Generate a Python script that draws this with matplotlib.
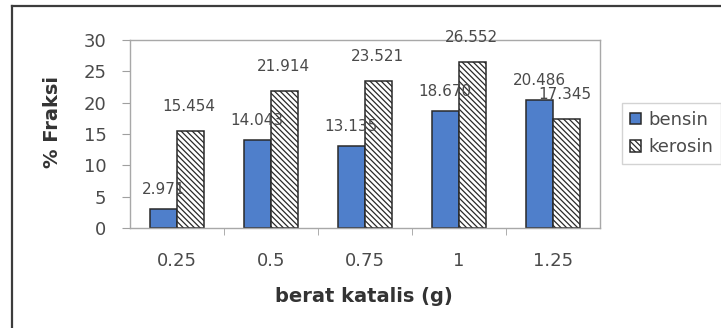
import matplotlib.pyplot as plt
import numpy as np
from matplotlib.lines import Line2D

plt.rcParams['font.family'] = ['DejaVu Sans']
plt.rcParams['hatch.linewidth'] = 0.9
plt.rcParams['hatch.color'] = '#222222'

berat = ['0.25', '0.5', '0.75', '1', '1.25']
bensin = [2.971, 14.043, 13.135, 18.670, 20.486]
kerosin = [15.454, 21.914, 23.521, 26.552, 17.345]

txt = '#4a4a4a'
W, H = 721, 328

fig = plt.figure(figsize=(W / 100, H / 100), dpi=100)
ax = fig.add_axes([130 / W, 1 - 228 / H, 470 / W, 188 / H])

x = np.arange(len(berat))
w = 0.29
b1 = ax.bar(x - w / 2, bensin, w, color='#4f7fcb', edgecolor='#2a2a2a',
            linewidth=1.1, label='bensin', zorder=2)
b2 = ax.bar(x + w / 2, kerosin, w, color='white', edgecolor='#2a2a2a',
            hatch='\\\\\\\\\\\\', linewidth=1.1, label='kerosin', zorder=2)

for xi, v in zip(x - w / 2, bensin):
    ax.annotate(f'{v:.3f}', (xi, v), xytext=(0, 10.8), textcoords='offset points',
                ha='center', va='baseline', fontsize=11, color=txt, zorder=5)
for xi, v in zip(x + w / 2, kerosin):
    ax.annotate(f'{v:.3f}', (xi, v), xytext=(-1, 14.4), textcoords='offset points',
                ha='center', va='baseline', fontsize=11, color=txt, zorder=5)

ax.set_xlim(-0.5, len(berat) - 0.5)
ax.set_ylim(0, 30)
ax.set_yticks(range(0, 31, 5))
ax.set_xticks(x)
ax.set_xticklabels(berat)
ax.set_xticks(np.arange(0.5, len(berat) - 1, 1), minor=True)
ax.tick_params(axis='x', which='major', length=0, pad=17, labelsize=13, labelcolor=txt)
ax.tick_params(axis='x', which='minor', length=5, color='#a0a0a0', direction='out')
ax.tick_params(axis='y', length=6, color='#a0a0a0', pad=11, labelsize=13, labelcolor=txt)
for s in ax.spines.values():
    s.set_color('#a8a8a8')
    s.set_linewidth(1.0)

fig.text(364 / W, 1 - 296 / H, 'berat katalis (g)', ha='center', va='center',
         fontsize=14, fontweight='bold', color='#333333')
fig.text(52 / W, 1 - 122 / H, '% Fraksi', ha='center', va='center', rotation=90,
         fontsize=14, fontweight='bold', color='#333333')

leg = fig.legend(handles=[b1, b2], labels=['bensin', 'kerosin'], loc='upper left',
                 bbox_to_anchor=(622 / W, 1 - 103 / H), borderaxespad=0, fontsize=13,
                 frameon=True, fancybox=False, edgecolor='#c8c8c8', handlelength=0.6,
                 handleheight=0.6, handletextpad=0.4, labelspacing=0.5, borderpad=0.45)
leg.get_frame().set_linewidth(1.0)
for t in leg.get_texts():
    t.set_color(txt)

# outer frame around the chart
fig.add_artist(Line2D([12 / W, 12 / W], [0, 1 - 6 / H], color='#3c3c3c', lw=1.6))
fig.add_artist(Line2D([12 / W, 1], [1 - 6 / H, 1 - 6 / H], color='#3c3c3c', lw=1.6))

fig.savefig('out.png', dpi=100)
